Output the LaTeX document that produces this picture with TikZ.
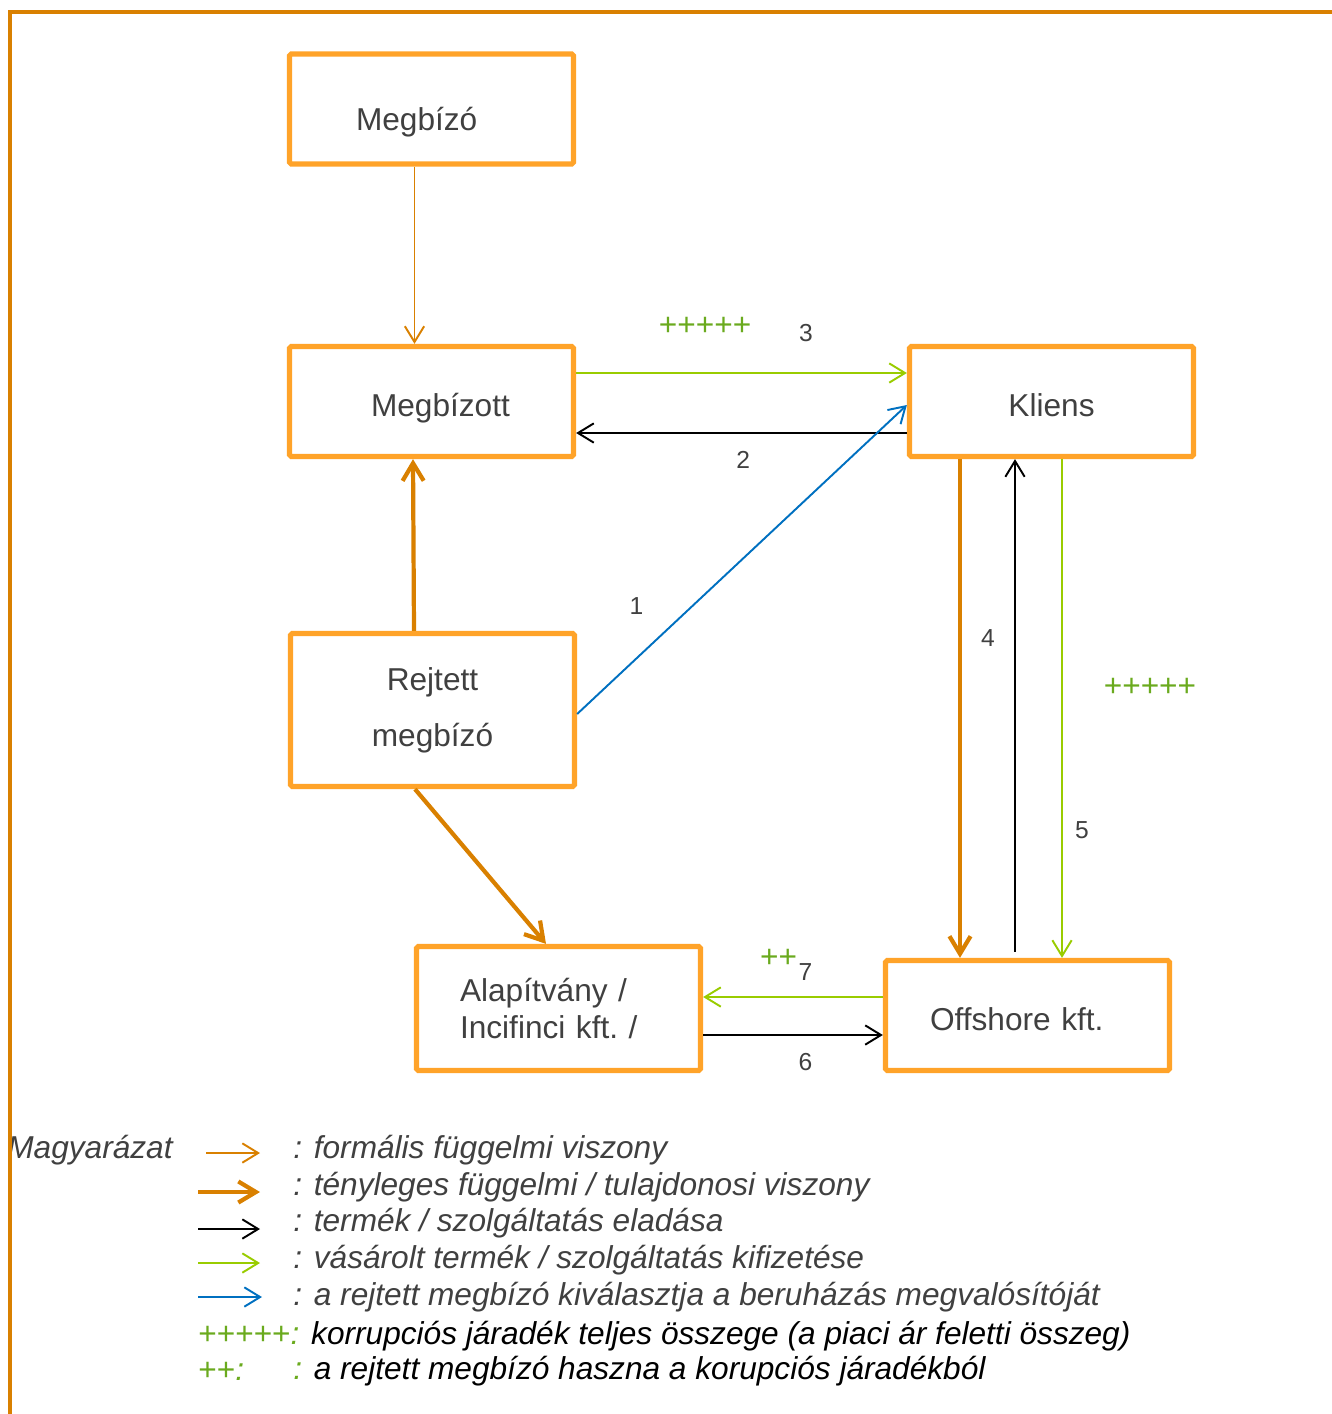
\documentclass[tikz,border=0pt]{standalone}
\usepackage{fontspec}
\setmainfont{Liberation Sans}
\usetikzlibrary{arrows.meta}

\definecolor{boxorange}{HTML}{FFA329}
\definecolor{darkorange}{HTML}{D98000}
\definecolor{linegreen}{HTML}{99CC00}
\definecolor{plusgreen}{HTML}{6AAA1E}
\definecolor{lineblue}{HTML}{0070C0}
\definecolor{textgray}{HTML}{404040}

\tikzset{
	box/.style = {draw=boxorange, line width=3pt, rounded corners=1pt,
		minimum width=5.68cm, minimum height=2.2cm, text=textgray,
		text height=21pt, text depth=4pt,
		font=\fontsize{18}{22}\selectfont},
	formalarrow/.style = {draw=darkorange, line width=1.1pt,
		-{Straight Barb[length=9pt,width=11pt]}},
	ownarrow/.style = {draw=darkorange, line width=2.4pt,
		-{Straight Barb[length=10pt,width=12pt]}},
	salearrow/.style = {draw=black, line width=1.1pt,
		-{Straight Barb[length=9pt,width=11pt]}},
	payarrow/.style = {draw=linegreen, line width=1.1pt,
		-{Straight Barb[length=9pt,width=11pt]}},
	selectarrow/.style = {draw=lineblue, line width=1.1pt,
		-{Straight Barb[length=9pt,width=11pt]}},
	numlabel/.style = {text=textgray, inner sep=0pt, font=\fontsize{14}{16}\selectfont},
	pluslabel/.style = {text=plusgreen, inner sep=0pt, font=\fontsize{18}{20}\selectfont},
	legendtext/.style = {anchor=west, inner sep=0pt, text=textgray,
		font=\fontsize{18}{20}\selectfont\itshape},
	border/.style = {draw=darkorange, line width=2.8pt}
}

\begin{document}
\begin{tikzpicture}
	\useasboundingbox (0,0) rectangle (26.64,-28.28);

	\node [box, align=left, text width=3.02cm, text height=29pt] (1) at (8.63,-2.18) {Megbízó};
	\node [box, align=left, text width=2.42cm] (2) at (8.63,-8.03) {Megbízott};
	\node [box] (3) at (21.03,-8.03) {Kliens};
	\node [box, minimum height=3.06cm, align=center, text height=, text depth=,
		font=\fontsize{18}{32}\selectfont] (4) at (8.65,-14.2)
		{Rejtett\\megbízó};
	\node [box, minimum height=2.48cm, align=left, text width=3.94cm,
		text height=, text depth=, font=\fontsize{18}{21}\selectfont] (5) at (11.17,-20.17)
		{Alapítvány /\\Incifinci kft.\ /};
	\node [box, align=left, text width=3.9cm] (6) at (20.55,-20.31) {Offshore kft.};

	\draw [formalarrow] ([xshift=-0.34cm]1.south) to ([xshift=-0.34cm]2.north);
	\draw [ownarrow] ([xshift=-0.37cm]4.north) to ([xshift=-0.37cm]2.south);
	\draw [ownarrow] ([xshift=-0.35cm]4.south) to ([xshift=-0.25cm]5.north);
	\draw [payarrow] ([yshift=0.57cm]2.east) to
		node [pluslabel, pos=0.39, yshift=0.94cm] {+++++}
		node [numlabel, pos=0.695, yshift=0.8cm] {3}
		([yshift=0.57cm]3.west);
	\draw [salearrow] ([yshift=-0.63cm]3.west) to
		node [numlabel, pos=0.495, yshift=-0.54cm] {2}
		([yshift=-0.63cm]2.east);
	\draw [selectarrow] ([yshift=-0.08cm]4.east) to
		node [numlabel, pos=0.18, yshift=1.04cm] {1}
		([yshift=-0.07cm]3.west);
	\draw [ownarrow] ([xshift=-1.83cm]3.south) to ([xshift=-1.35cm]6.north);
	\draw [salearrow] ([xshift=-0.25cm,yshift=0.12cm]6.north) to
		node [numlabel, pos=0.637, xshift=-0.54cm] {4}
		([xshift=-0.73cm]3.south);
	\draw [payarrow] ([xshift=0.21cm]3.south) to
		node [pluslabel, pos=0.457, xshift=1.76cm] {+++++}
		node [numlabel, pos=0.743, xshift=0.4cm] {5}
		([xshift=0.69cm]6.north);
	\draw [payarrow] ([yshift=0.37cm]6.west) to
		node [pluslabel, pos=0.58, yshift=0.78cm] {++}
		node [numlabel, pos=0.43, yshift=0.5cm] {7}
		([yshift=0.23cm]5.east);
	\draw [salearrow] ([yshift=-0.53cm]5.east) to
		node [numlabel, pos=0.57, yshift=-0.54cm] {6}
		([yshift=-0.39cm]6.west);

	% legend
	\node [legendtext] (m) at (0.14,-23.0) {Magyarázat};
	\coordinate (l1a) at (4.12,-23.06);
	\coordinate (l1b) at (5.2,-23.06);
	\coordinate (l2a) at (3.96,-23.84);
	\coordinate (l2b) at (5.2,-23.84);
	\coordinate (l3a) at (3.96,-24.58);
	\coordinate (l3b) at (5.2,-24.58);
	\coordinate (l4a) at (3.96,-25.26);
	\coordinate (l4b) at (5.2,-25.26);
	\coordinate (l5a) at (3.96,-25.94);
	\coordinate (l5b) at (5.24,-25.94);
	\draw [formalarrow] (l1a) to (l1b);
	\draw [ownarrow] (l2a) to (l2b);
	\draw [salearrow] (l3a) to (l3b);
	\draw [payarrow] (l4a) to (l4b);
	\draw [selectarrow] (l5a) to (l5b);
	\node [legendtext] (t1) at (5.86,-23.0) {: formális függelmi viszony};
	\node [legendtext] (t2) at (5.86,-23.74) {: tényleges függelmi / tulajdonosi viszony};
	\node [legendtext] (t3) at (5.86,-24.46) {: termék / szolgáltatás eladása};
	\node [legendtext] (t4) at (5.86,-25.2) {: vásárolt termék / szolgáltatás kifizetése};
	\node [legendtext] (t5) at (5.86,-25.94) {: a rejtett megbízó kiválasztja a beruházás megvalósítóját};
	\node [legendtext, text=black] (t6) at (3.96,-26.72)
		{\textcolor{plusgreen}{{\upshape +++++}:} korrupciós járadék teljes összege (a piaci ár feletti összeg)};
	\node [legendtext, text=plusgreen] (t7) at (3.96,-27.42) {{\upshape ++}:};
	\node [legendtext, text=black] (t8) at (5.86,-27.42)
		{\textcolor{plusgreen}{:} a rejtett megbízó haszna a korupciós járadékból};

	\draw [border] (0.2,-28.28) -- (0.2,-0.24) -- (26.64,-0.24);
\end{tikzpicture}
\end{document}
